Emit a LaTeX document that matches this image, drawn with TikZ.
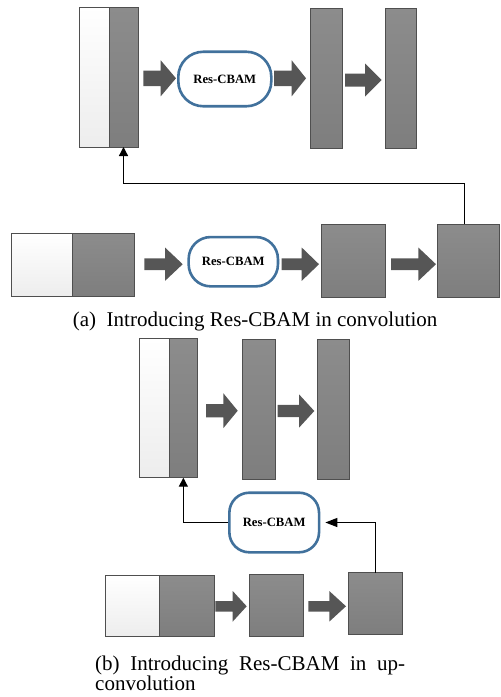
\documentclass[tikz,border=0pt]{standalone}
\usepackage{fontspec}
\setmainfont{Liberation Serif}
\usetikzlibrary{arrows.meta}
\definecolor{boxblue}{HTML}{41719C}
\definecolor{edgegray}{HTML}{4F4F4F}
\definecolor{arrowgray}{HTML}{565656}
\definecolor{darktop}{HTML}{8C8C8C}
\definecolor{darkbot}{HTML}{7E7E7E}
\definecolor{lightbot}{HTML}{EDEDED}
\tikzset{
  lightbox/.style={draw=edgegray, line width=0.9pt, top color=white, bottom color=lightbot, inner sep=0pt, outer sep=0pt, anchor=north west},
  darkbox/.style={draw=edgegray, line width=0.9pt, top color=darktop, bottom color=darkbot, inner sep=0pt, outer sep=0pt, anchor=north west},
  cbam/.style={draw=boxblue, line width=2.6pt, fill=white, inner sep=0pt, font=\fontsize{12.7}{14}\selectfont\bfseries},
  link/.style={line width=1.3pt, -{Triangle[length=9pt,width=9pt]}},
  blockarrow/.style={fill=arrowgray},
  captext/.style={anchor=base west, inner sep=0pt, font=\fontsize{21}{24}\selectfont}
}
\newcommand\blockarr[6]{%
  \fill[blockarrow] (#1,#4-#5) -- (#2,#4-#5) -- (#2,#4-#6) -- (#3,#4) -- (#2,#4+#6) -- (#2,#4+#5) -- (#1,#4+#5) -- cycle;}
\begin{document}
\begin{tikzpicture}[x=1pt,y=-1pt]
\useasboundingbox (0,0) rectangle (501,697);
% ---------- (a) top row
\node[lightbox, minimum width=29.7pt, minimum height=140pt] (A1w) at (79.3,7) {};
\node[darkbox, minimum width=29pt, minimum height=140pt] (A1d) at (109,7) {};
\node[cbam, minimum width=93pt, minimum height=54.5pt, rounded corners=25pt] (RA) at (224.8,79) {Res-CBAM};
\node[darkbox, minimum width=32.3pt, minimum height=139.6pt] (A2) at (310,8.7) {};
\node[darkbox, minimum width=31.4pt, minimum height=139.6pt] (A3) at (385.3,8.7) {};
\blockarr{143.3}{160.7}{176}{78.3}{7.7}{18}
\blockarr{274}{291.7}{306}{78.3}{7.7}{18}
\blockarr{345}{365}{381.7}{80}{6.5}{16.5}
% ---------- (a) bottom row
\node[lightbox, minimum width=61pt, minimum height=62.7pt] (B1w) at (11.7,233.3) {};
\node[darkbox, minimum width=62pt, minimum height=62.7pt] (B1d) at (72.7,233.3) {};
\node[cbam, minimum width=89.3pt, minimum height=49.3pt, rounded corners=22pt] (RB) at (233.3,261.7) {Res-CBAM};
\node[darkbox, minimum width=64.7pt, minimum height=73pt] (B2) at (321,224.3) {};
\node[darkbox, minimum width=62pt, minimum height=73pt] (B3) at (437.7,224.3) {};
\blockarr{144.3}{165}{182.7}{264.2}{5.8}{16.7}
\blockarr{281.7}{301.7}{319}{264.2}{5.8}{16.7}
\blockarr{391}{418.3}{436}{264.2}{5.8}{16.7}
\coordinate (ua) at (464.3,183.3);
\draw[link] (B3.north -| ua) -- (ua) -| (A1d.south);
\node[captext] (capa) at (72.7,326) {(a)\hspace{0.5em}Introducing Res-CBAM in convolution};
% ---------- (b) top row
\node[lightbox, minimum width=29.7pt, minimum height=139.4pt] (C1w) at (139.3,338.3) {};
\node[darkbox, minimum width=28.7pt, minimum height=139.4pt] (C1d) at (169,338.3) {};
\node[darkbox, minimum width=32.3pt, minimum height=140pt] (C2) at (242.7,339.3) {};
\node[darkbox, minimum width=31.7pt, minimum height=140pt] (C3) at (317.3,339.3) {};
\blockarr{206}{223.3}{237.7}{410.7}{6.7}{17.5}
\blockarr{277.7}{299}{314.3}{411}{6.2}{16.7}
\node[cbam, minimum width=89.7pt, minimum height=59.6pt, rounded corners=20pt] (RC) at (274.2,522.5) {Res-CBAM};
% ---------- (b) bottom row
\node[lightbox, minimum width=53.6pt, minimum height=61.7pt] (D1w) at (105.7,575) {};
\node[darkbox, minimum width=54.7pt, minimum height=61.7pt] (D1d) at (159.3,575) {};
\node[darkbox, minimum width=54.3pt, minimum height=62.7pt] (D2) at (249,574) {};
\node[darkbox, minimum width=54.4pt, minimum height=61.6pt] (D3) at (348.3,572.7) {};
\blockarr{215.3}{232.7}{246.7}{606.3}{5.3}{15.3}
\blockarr{308.3}{329.3}{346}{606.3}{5.3}{15.3}
\draw[link] (RC.west) -| (C1d.south);
\draw[link, shorten >=5pt, -{Triangle[length=12pt,width=9pt]}] (D3.north) |- (RC.east);
\node[captext] (capb1) at (95,670) {\makebox[310pt][s]{(b) Introducing Res-CBAM in up-}};
\node[captext] (capb2) at (95,690) {convolution};
\end{tikzpicture}
\end{document}
